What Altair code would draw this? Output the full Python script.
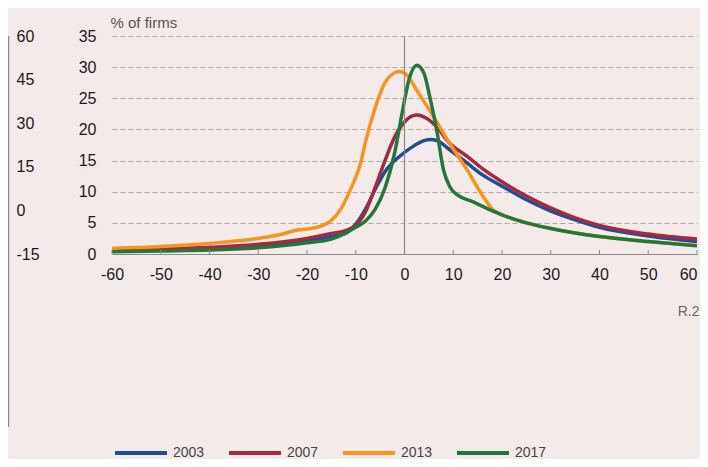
import altair as alt
import pandas as pd

# ---- data ----
x_2003 = [-60, -50, -40, -30, -20, -15, -12, -10, -8, -6, -4, -2, 0, 2, 4, 5.5, 7, 9, 13, 16, 20, 25, 30, 35, 40, 50, 60]
y_2003 = [0.55, 0.7, 0.95, 1.4, 2.2, 2.8, 3.4, 4.8, 7.2, 10.4, 13.2, 15.0, 16.3, 17.4, 18.2, 18.4, 18.1, 16.9, 14.5, 12.7, 10.9, 8.7, 6.9, 5.5, 4.3, 2.9, 2.0]

x_2007 = [-60, -50, -40, -30, -20, -15, -12, -10, -8, -6, -4, -2, 0, 2.5, 4.5, 6.5, 9, 13, 16, 20, 25, 30, 35, 40, 50, 60]
y_2007 = [0.65, 0.8, 1.07, 1.55, 2.5, 3.3, 3.8, 4.6, 6.8, 10.7, 15.0, 18.8, 21.2, 22.3, 21.8, 20.5, 18.0, 15.6, 13.7, 11.6, 9.3, 7.4, 5.8, 4.6, 3.2, 2.4]

x_2013 = [-60, -50, -40, -30, -25, -22, -20, -17, -15, -13, -12, -11, -9, -8, -6, -4, -2, -1, 0.5, 2.5, 6, 9, 13, 16, 18, 20, 25, 30, 40, 50, 60]
y_2013 = [0.9, 1.2, 1.7, 2.5, 3.2, 3.85, 4.0, 4.5, 5.4, 7.3, 8.8, 10.5, 14.6, 18.0, 23.5, 27.5, 29.1, 29.3, 28.7, 26.3, 22.0, 18.1, 13.3, 9.4, 7.2, 6.3, 5.0, 4.1, 2.8, 2.0, 1.4]

x_2017 = [-60, -50, -40, -30, -20, -15, -12, -10, -8, -6, -4, -2, -0.5, 1, 2.5, 4, 5.2, 6.6, 8, 9.3, 11, 14, 17, 20, 25, 30, 40, 50, 60]
y_2017 = [0.37, 0.5, 0.64, 1.0, 1.8, 2.4, 3.4, 4.3, 5.3, 7.2, 10.6, 16.3, 22.6, 28.2, 30.3, 29.0, 25.2, 19.9, 13.5, 10.8, 9.4, 8.4, 7.3, 6.3, 5.0, 4.1, 2.8, 2.0, 1.3]

series_names = ["2003", "2007", "2013", "2017"]
series_colors = ["#1f4e93", "#a32a40", "#f7931e", "#24773a"]
x_ticks = [-60, -50, -40, -30, -20, -10, 0, 10, 20, 30, 40, 50, 60]
y_ticks = [0, 5, 10, 15, 20, 25, 30, 35]
left_ticks = [60, 45, 30, 15, 0, -15]

rows = []
for name, xs, ys in [("2003", x_2003, y_2003), ("2007", x_2007, y_2007),
                     ("2013", x_2013, y_2013), ("2017", x_2017, y_2017)]:
    for i, (a, b) in enumerate(zip(xs, ys)):
        rows.append({"series": name, "x": a, "y": b, "i": i})
df = pd.DataFrame(rows)

FONT = "Liberation Sans"
HYPHEN = "replace(datum.label, '\u2212', '-')"
xscale = alt.Scale(domain=[-60, 60], nice=False, zero=False)
yscale = alt.Scale(domain=[0, 35], nice=False)

xaxis = alt.Axis(values=x_ticks, tickSize=0, labelPadding=12, labelFontSize=16,
                 labelColor="#1a1a1a", domainColor="#8a8a8a", domainWidth=1.2,
                 grid=False, labelFont=FONT, labelOverlap=False, labelExpr=HYPHEN,
                 labelFlush=False,
                 labelAlign={"condition": {"test": "datum.value >= 60", "value": "right"},
                             "value": "center"},
                 title="R.2", titleX=587, titleY=57, titleAlign="right",
                 titleBaseline="middle", titleFontSize=14, titleFontWeight="normal",
                 titleColor="#666666", titleFont=FONT)
yaxis = alt.Axis(values=y_ticks, tickSize=0, labelPadding=16, labelFontSize=16,
                 labelColor="#1a1a1a", domain=False, grid=True, labelOverlap=False,
                 labelFlush=False,
                 gridDash=[5, 3], gridColor="#aaaaaa", gridWidth=1.2, labelFont=FONT,
                 title="% of firms", titleAngle=0, titleX=-2, titleY=-14,
                 titleAlign="left", titleBaseline="middle", titleFontSize=15,
                 titleFontWeight="normal", titleColor="#555555", titleFont=FONT)

lines = alt.Chart(df).mark_line(strokeWidth=3.5, interpolate="monotone").encode(
    x=alt.X("x:Q", scale=xscale, axis=xaxis),
    y=alt.Y("y:Q", scale=yscale, axis=yaxis),
    color=alt.Color("series:N", scale=alt.Scale(domain=series_names, range=series_colors),
                    legend=alt.Legend(orient="none", legendX=1, legendY=389, direction="horizontal",
                                      columns=4, symbolType="stroke", symbolSize=2704,
                                      symbolStrokeWidth=4, labelOffset=4, columnPadding=16,
                                      labelFontSize=14, labelColor="#444444", labelFont=FONT,
                                      title=None)),
    order="i:Q",
)

zero_df = pd.DataFrame({"x": [0]})
zero_line = alt.Chart(zero_df).mark_rule(color="#8a8a8a", strokeWidth=1.2).encode(
    x=alt.X("x:Q", scale=xscale, axis=xaxis),
    y=alt.value(0),
    y2=alt.value(218),
)

tick_df = pd.DataFrame({"x": x_ticks})
ticks = alt.Chart(tick_df).mark_rule(color="#8a8a8a", strokeWidth=1).encode(
    x=alt.X("x:Q", scale=xscale, axis=xaxis),
    y=alt.value(214),
    y2=alt.value(218),
)

left_edge = alt.Chart(pd.DataFrame({"k": [0]})).mark_rule(color="#8a8a8a", strokeWidth=1.5).encode(
    x=alt.value(-103.5), y=alt.value(0), y2=alt.value(391)
)

main = alt.layer(lines, zero_line, ticks, left_edge)

left_df = pd.DataFrame({"v": left_ticks})
left_axis = alt.Chart(left_df).mark_point(opacity=0).encode(
    y=alt.Y("v:Q", scale=alt.Scale(domain=[-15, 60], nice=False),
            axis=alt.Axis(orient="left", values=left_ticks, labelAlign="left", offset=96,
                          labelPadding=0, tickSize=0, domain=False, grid=False, title=None,
                          labelOverlap=False, labelExpr=HYPHEN, labelFlush=False,
                          labelFontSize=16, labelColor="#1a1a1a", labelFont=FONT)),
)

chart = alt.layer(main, left_axis).resolve_scale(y="independent").properties(
    width=585, height=218,
    autosize=alt.AutoSizeParams(type="none"),
    padding={"left": 104, "top": 28, "right": 3, "bottom": 205},
    background="#f5eaea",
).configure_view(stroke=None)

chart.save("out.html", embed_options={"renderer": "svg", "actions": False})
